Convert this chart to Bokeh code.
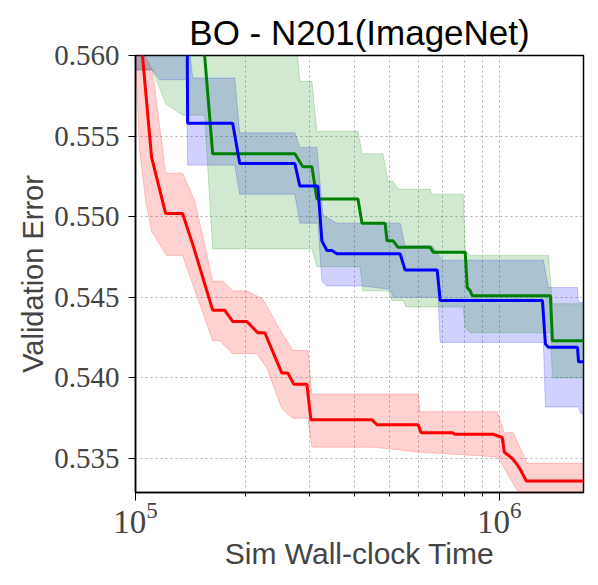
import numpy as np
from bokeh.plotting import figure
from bokeh.models import Range1d, FixedTicker, PrintfTickFormatter, LogTickFormatter
from bokeh.embed import file_html
from bokeh.resources import INLINE

SCALE = 1e5  # x values below are given in units of 1e5 s

# ---- mean curves ----
red_x = [1.00, 1.045, 1.107, 1.210, 1.347, 1.436, 1.630, 1.758, 1.850, 2.022, 2.168, 2.267, 2.525, 2.623,
         2.725, 2.959, 3.035, 4.468, 4.612, 5.982, 6.097, 7.423, 7.566, 9.627, 10.19, 10.32, 10.86, 11.21,
         11.43, 11.87, 17.04]
red_y = [0.5650, 0.5600, 0.5537, 0.5502, 0.5502, 0.5483, 0.5442, 0.5442, 0.5435, 0.5435, 0.5428, 0.5428,
         0.5403, 0.5403, 0.5396, 0.5396, 0.5374, 0.5374, 0.5371, 0.5371, 0.5366, 0.5366, 0.5365, 0.5365,
         0.5363, 0.5354, 0.5350, 0.5346, 0.5343, 0.5336, 0.5336]

blue_x = [1.00, 1.385, 1.391, 1.850, 1.934, 2.742, 2.830, 3.172, 3.253, 3.359, 3.467, 3.578, 5.337, 5.508,
          6.749, 6.879, 13.14, 13.39, 13.65, 16.40, 16.51, 17.04]
blue_y = [0.5640, 0.5640, 0.5558, 0.5558, 0.5533, 0.5533, 0.5519, 0.5519, 0.5485, 0.5479, 0.5479, 0.5477,
          0.5477, 0.5467, 0.5467, 0.5448, 0.5448, 0.5421, 0.5419, 0.5419, 0.5410, 0.5410]

green_x = [1.00, 1.545, 1.549, 1.630, 2.742, 2.884, 3.054, 3.152, 4.088, 4.194, 4.853, 4.915, 5.105, 5.270,
           6.455, 6.580, 8.060, 8.163, 8.322, 8.426, 13.82, 14.00, 17.04]
green_y = [0.5660, 0.5660, 0.5600, 0.5539, 0.5539, 0.5531, 0.5531, 0.5511, 0.5511, 0.5496, 0.5496, 0.5485,
           0.5485, 0.5481, 0.5481, 0.5478, 0.5478, 0.5456, 0.5454, 0.5451, 0.5451, 0.5423, 0.5423]

# ---- band bounds ----
red_up_x = [1.00, 1.059, 1.114, 1.210, 1.347, 1.454, 1.520, 1.630, 1.736, 1.850, 2.022, 2.238, 2.525, 2.707,
            2.978, 3.054, 5.982, 6.058, 9.874, 10.32, 10.93, 11.94, 17.04]
red_up_y = [0.5625, 0.5600, 0.5591, 0.5527, 0.5527, 0.5510, 0.5491, 0.5460, 0.5460, 0.5454, 0.5454, 0.5449,
            0.5428, 0.5417, 0.5417, 0.5390, 0.5390, 0.5379, 0.5379, 0.5366, 0.5366, 0.5347, 0.5347]
red_lo_x = [1.00, 1.026, 1.066, 1.107, 1.217, 1.347, 1.630, 1.703, 1.850, 2.154, 2.296, 2.525, 2.707, 2.978,
            3.054, 4.496, 5.982, 9.874, 11.21, 17.04]
red_lo_y = [0.5600, 0.5541, 0.5510, 0.5491, 0.5476, 0.5476, 0.5423, 0.5423, 0.5415, 0.5415, 0.5406, 0.5381,
            0.5375, 0.5375, 0.5357, 0.5357, 0.5354, 0.5351, 0.5330, 0.5320]

blue_up_x = [1.00, 1.382, 1.436, 1.874, 1.934, 2.742, 2.830, 3.152, 3.275, 3.578, 5.337, 5.508, 6.538, 6.966,
             13.22, 13.65, 16.40, 16.51, 17.04]
blue_up_y = [0.5620, 0.5620, 0.5586, 0.5586, 0.5552, 0.5552, 0.5543, 0.5543, 0.5501, 0.5496, 0.5496, 0.5482,
             0.5482, 0.5473, 0.5473, 0.5456, 0.5456, 0.5447, 0.5447]
blue_lo_x = [1.00, 1.114, 1.164, 1.382, 1.391, 1.874, 1.934, 2.742, 2.830, 3.172, 3.253, 3.359, 4.194, 5.009,
             5.105, 6.792, 6.879, 13.22, 13.39, 16.51, 16.72, 17.04]
blue_lo_y = [0.5591, 0.5591, 0.5585, 0.5585, 0.5532, 0.5532, 0.5514, 0.5514, 0.5496, 0.5496, 0.5460, 0.5457,
             0.5457, 0.5455, 0.5450, 0.5450, 0.5422, 0.5422, 0.5382, 0.5382, 0.5378, 0.5378]

green_up_x = [1.00, 2.742, 2.830, 3.054, 3.152, 4.088, 4.194, 4.790, 4.946, 5.105, 5.270, 6.455, 6.538, 7.959,
              8.060, 8.322, 13.65, 14.00, 17.04]
green_up_y = [0.5620, 0.5620, 0.5584, 0.5584, 0.5553, 0.5553, 0.5539, 0.5539, 0.5522, 0.5522, 0.5517, 0.5517,
              0.5514, 0.5514, 0.5479, 0.5476, 0.5476, 0.5446, 0.5446]
green_lo_x = [1.00, 1.114, 1.210, 1.347, 1.549, 1.599, 1.630, 3.054, 3.152, 4.140, 4.221, 4.946, 5.073, 5.439,
              5.543, 7.959, 8.060, 8.322, 13.82, 14.00, 17.04]
green_lo_y = [0.5591, 0.5591, 0.5570, 0.5563, 0.5563, 0.5510, 0.5480, 0.5480, 0.5469, 0.5469, 0.5454, 0.5454,
              0.5448, 0.5448, 0.5444, 0.5444, 0.5431, 0.5428, 0.5428, 0.5400, 0.5400]

x_major_ticks = [1e5, 1e6]
x_minor_ticks = [2e5, 3e5, 4e5, 5e5, 6e5, 7e5, 8e5, 9e5]
y_ticks = [0.535, 0.540, 0.545, 0.550, 0.555, 0.560]
x_min, x_max = 1.0, 17.04
y_min, y_max = 0.53289, 0.5600

TITLE = "BO - N201(ImageNet)"
XLABEL = "Sim Wall-clock Time"
YLABEL = "Validation Error"

SANS = "Liberation Sans"
SERIF = "Liberation Serif"

p = figure(x_axis_type="log", output_backend="svg", toolbar_location=None,
           frame_width=448, frame_height=437,
           min_border_left=135, min_border_right=7, min_border_top=55, min_border_bottom=80,
           x_range=Range1d(x_min * SCALE, x_max * SCALE), y_range=Range1d(y_min, y_max))
p.background_fill_color = "white"
p.border_fill_color = "white"

def band(ux, uy, lx, ly, color):
    xs = list(np.array(ux) * SCALE) + list(np.array(lx[::-1]) * SCALE)
    ys = list(uy) + list(ly[::-1])
    p.patch(xs, ys, fill_color=color, fill_alpha=0.18, line_color=color, line_alpha=0.2, line_width=1)

band(red_up_x, red_up_y, red_lo_x, red_lo_y, "#ff0000")
band(blue_up_x, blue_up_y, blue_lo_x, blue_lo_y, "#0000ff")
band(green_up_x, green_up_y, green_lo_x, green_lo_y, "#008000")

p.line(np.array(red_x) * SCALE, red_y, line_color="#ff0000", line_width=3)
p.line(np.array(green_x) * SCALE, green_y, line_color="#008000", line_width=3)
p.line(np.array(blue_x) * SCALE, blue_y, line_color="#0000ff", line_width=3)

# title
p.title.text = TITLE
p.title.align = "center"
p.title.text_font = SANS
p.title.text_font_style = "normal"
p.title.text_font_size = "35px"
p.title.text_color = "black"
p.title.standoff = 7

# frame
p.outline_line_color = "black"
p.outline_line_width = 1.5
p.outline_line_alpha = 1.0

# grids
p.xgrid.grid_line_color = "#b0b0b0"
p.xgrid.grid_line_dash = "2 3"
p.xgrid.grid_line_width = 1
p.xgrid.minor_grid_line_color = "#b0b0b0"
p.xgrid.minor_grid_line_dash = "2 3"
p.xgrid.minor_grid_line_width = 1
p.ygrid.grid_line_color = "#b0b0b0"
p.ygrid.grid_line_dash = "2 3"
p.ygrid.grid_line_width = 1

# axes
xa = p.xaxis[0]
xa.ticker = FixedTicker(ticks=x_major_ticks, minor_ticks=x_minor_ticks)
xa.formatter = LogTickFormatter()
xa.axis_label = XLABEL
xa.axis_label_text_font = SANS
xa.axis_label_text_font_style = "normal"
xa.axis_label_text_font_size = "30px"
xa.axis_label_standoff = 1
xa.major_label_text_font = SERIF
xa.major_label_text_font_size = "33px"
xa.major_label_standoff = 1
xa.major_tick_out = 8
xa.major_tick_in = 0
xa.minor_tick_out = 4
xa.minor_tick_in = 0
xa.axis_line_color = "black"
xa.axis_line_width = 1.5

ya = p.yaxis[0]
ya.ticker = FixedTicker(ticks=y_ticks, minor_ticks=[])
ya.formatter = PrintfTickFormatter(format="%.3f")
ya.axis_label = YLABEL
ya.axis_label_text_font = SANS
ya.axis_label_text_font_style = "normal"
ya.axis_label_text_font_size = "29px"
ya.axis_label_standoff = 2
ya.major_label_text_font = SERIF
ya.major_label_text_font_size = "29px"
ya.major_label_standoff = 9
ya.major_tick_out = 7
ya.major_tick_in = 0
ya.minor_tick_out = 0
ya.axis_line_color = "black"
ya.axis_line_width = 1.5

open("out.html", "w").write(file_html(p, INLINE))
